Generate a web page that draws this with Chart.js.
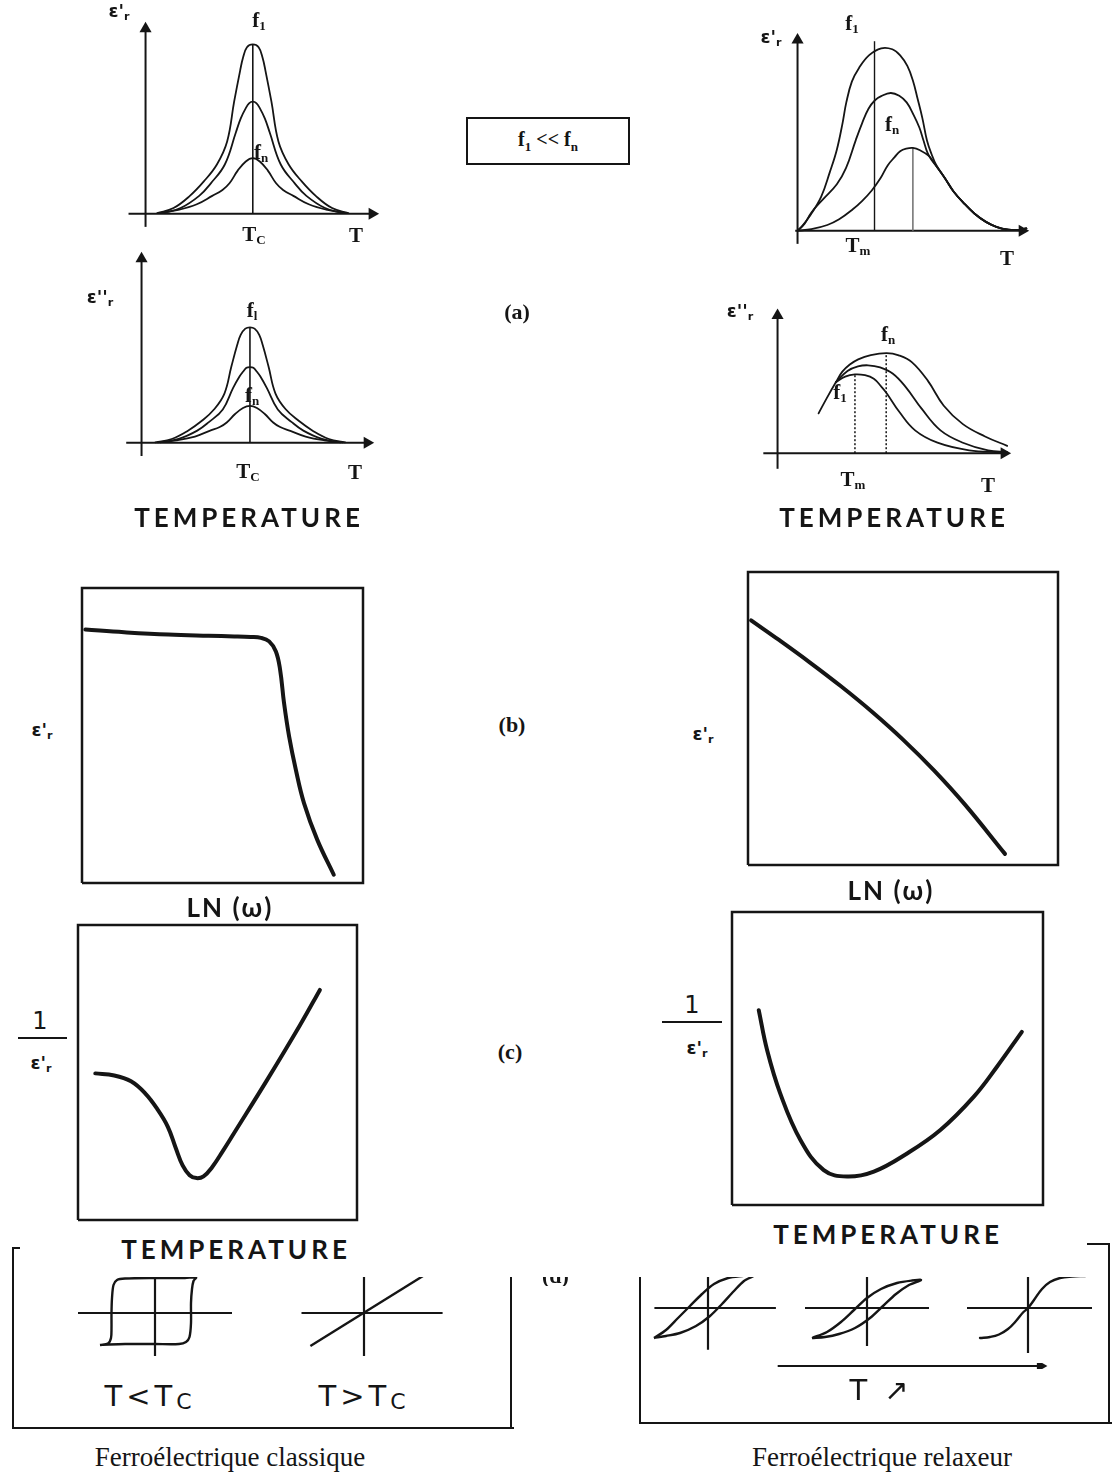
<!DOCTYPE html>
<html>
<head>
<meta charset="utf-8">
<script src="https://cdn.jsdelivr.net/npm/chart.js@4.4.1/dist/chart.umd.min.js"></script>
<style>
  body { margin: 0; background: #fff; width: 1119px; height: 1476px; position: relative; overflow: hidden; color: #151515; font-family: 'DejaVu Sans', sans-serif; }
  canvas { position: absolute; }
  .lab { position: absolute; transform: translate(-50%, -50%); white-space: nowrap; line-height: 1; }
  .lab sub { font-size: 0.62em; vertical-align: -0.3em; }
  .sf { font-family: 'Liberation Serif', serif; font-weight: bold; font-size: 21px; }
  .pl { font-family: 'Liberation Serif', serif; font-weight: bold; font-size: 22px; }
  .ep { font-family: 'DejaVu Sans', sans-serif; font-weight: bold; font-size: 18px; }
  .one { font-family: 'DejaVu Sans', sans-serif; font-size: 24px; }
  .cap { font-family: 'Lato', sans-serif; font-weight: 700; font-size: 26px; letter-spacing: 4px; }
  .ln { font-family: 'Lato', sans-serif; font-weight: 700; font-size: 26px; letter-spacing: 2px; }
  .tt { font-size: 29px; letter-spacing: 4px; }
  .fr { font-family: 'Liberation Serif', serif; font-size: 27px; }
  .line { position: absolute; border-color: #151515; border-style: solid; border-width: 0; }
  .box { position: absolute; border: 2px solid #151515; display: flex; align-items: center; justify-content: center;
         font-family: 'Liberation Serif', serif; font-weight: bold; font-size: 20px; }
  .cut { position: absolute; overflow: hidden; }
</style>
</head>
<body>
<script>
// ---------- data (arbitrary units 0..100) ----------
// (a) ferroelectrique classique, epsilon' vs T
const a1F1 = [[5,0.3],[12,3],[19,9.4],[25,17],[30.6,25.9],[35,38],[38,58.9],[40.6,75.4],[41.8,82],[43.5,87.5],[46,89],[48.5,87.5],[50.2,82],[51.4,75.4],[54,58.9],[57,38],[61.4,25.9],[67,17],[73,9.4],[80,3],[87,0.3]];
const a1Fm = [[7,0.3],[15,3],[23,9.4],[28,16],[34,25.9],[38.7,42.6],[40.8,50],[43,55.5],[44.5,58.2],[46,58.9],[47.5,58.2],[49,55.5],[51.2,50],[53.3,42.6],[58,25.9],[64,16],[69,9.4],[77,3],[85,0.3]];
const a1Fn = [[6,0.3],[14,2],[22,5],[28.6,9.4],[33,12.5],[36,16],[39.6,22.8],[43,27.5],[46,29.2],[49,27.5],[52.4,22.8],[56,16],[59,12.5],[63.4,9.4],[70,5],[78,2],[86,0.3]];
const a1Tc = [[46,0],[46,89]];
// (a) ferroelectrique classique, epsilon'' vs T
const a2F1 = [[6,0.2],[13,2],[20,6.4],[26,11.6],[31.3,17.7],[35.7,26],[38.7,40.3],[41.2,51.6],[42.7,57],[44.7,60.3],[46.7,61],[48.7,60.3],[50.7,57],[52.2,51.6],[54.7,40.3],[57.7,26],[62.1,17.7],[67.7,11.6],[73.7,6.4],[80.7,2],[87.7,0.2]];
const a2Fm = [[8,0.2],[16,2],[24,6.4],[29,10.9],[35,17.6],[39.4,28.9],[42.2,35],[43.7,37.5],[45.2,39.6],[46.7,40],[48.2,39.6],[49.7,37.5],[51.2,35],[54,28.9],[58.7,17.6],[64.7,10.9],[69.7,6.4],[77.7,2],[85.7,0.2]];
const a2Fn = [[7,0.2],[15,1.3],[23,3.3],[29.3,6.3],[33.7,8.3],[36.7,10.7],[40.3,15.2],[43.7,18.4],[46.7,19.5],[49.7,18.4],[53.1,15.2],[56.7,10.7],[59.7,8.3],[64.1,6.3],[70.7,3.3],[78.7,1.3],[86.7,0.2]];
const a2Tc = [[46.7,0],[46.7,61]];
// (a) relaxeur, epsilon' vs T
const a3F1 = [[0,0],[1.2,1.3],[5,7],[10.2,17.3],[14,30],[17,41.3],[19.5,55],[21.1,65.4],[23.5,76],[26.6,83],[31,89.5],[36.2,93],[41,92.5],[44.4,89.4],[47.5,84],[49.9,76.6],[52,67],[54,57.4],[56,46],[58,39],[60,33.5],[63.7,26.9],[67.5,20],[71.9,14.1],[76.5,8.8],[81.5,4.5],[86,2],[91.1,0.5],[95,0.3],[99,1.2]];
const a3Fm = [[0,0],[3,3.5],[6,9.3],[11,16],[17,23.7],[21,32],[25.2,46.2],[28,55],[30.7,62.2],[33.5,66.5],[36.2,68.6],[40.3,70.2],[44,68.8],[47.2,65.4],[50,59.5],[52.7,52.6],[54.5,46],[56.2,39.8],[58,36],[60,33],[63.7,26.9],[67.5,20],[71.9,14.1],[76.5,8.8],[81.5,4.5],[86,2],[91.1,0.5],[95,0.3],[99,1.2]];
const a3Fn = [[0,0],[6,0.8],[12.9,2.9],[18,5.8],[23.9,10.9],[28,15.2],[32.1,20.5],[36,27],[39,33.3],[42,37.5],[44.4,40.5],[47,41.8],[49.9,42.2],[53,41],[56.8,38.1],[60,33],[63.7,26.9],[67.5,20],[71.9,14.1],[76.5,8.8],[81.5,4.5],[86,2],[91.1,0.5],[95,0.3],[99,1.2]];
const a3Tm = [[33.3,0],[33.3,96.6]];
const a3Tn = [[49.9,0],[49.9,42.2]];
// (a) relaxeur, epsilon'' vs T
const a4Fn = [[17.6,28.1],[21,38.5],[25,50],[27.8,57.5],[31,62.5],[34.6,66.2],[40,69.2],[46.8,70.6],[52,69],[57.7,64.1],[64.5,51],[71.3,33.5],[79.5,20.5],[89,11.8],[98.5,5.2]];
const a4Fm = [[25,50],[30,58],[34.5,61.2],[38.8,62],[44,60.5],[49.5,56],[55,46.6],[61.8,31.4],[69.9,16.1],[79.5,7.4],[90.3,2],[98.5,0.8]];
const a4F1 = [[25,50],[29,54],[33.2,55.6],[37.5,55],[41.3,52.5],[44.5,47],[46.8,42.3],[52.2,29.2],[59,16.1],[68.6,7.4],[82.2,2],[95.8,0.5]];
const a4T1 = [[33.2,0],[33.2,55.6]];
const a4Tn = [[46.6,0],[46.6,70.6]];
// (b) epsilon' vs LN(omega)
const bLeft = [[1.2,85.9],[15,85],[30.7,84.2],[45,83.8],[54.2,83.6],[60,83.4],[63.7,83.1],[66.6,81.9],[69,78.5],[70.5,72.3],[71.9,61],[73.7,49.7],[76.1,38.4],[79,27.1],[83.7,14.7],[89.6,2.8]];
const bRight = [[1,83.5],[10,76.8],[20,69.1],[30,61],[40,52.3],[50,42.8],[60,32.3],[70,20.6],[82.9,3.8]];
// (c) 1/epsilon' vs T
const cLeft = [[6.2,49.7],[13,49],[19,47],[24,43],[28.5,37.5],[32.2,31.6],[35,24.5],[37.5,18.5],[40,15.2],[42.5,14.2],[45,14.8],[48,17.8],[52,23.5],[55.9,29.4],[67.8,47.5],[79.6,66.1],[86.7,78]];
const cRight = [[8.6,66.5],[11.3,52.8],[15.5,38.1],[22,22.2],[29.5,11.9],[37,9.7],[45.6,11.4],[56.3,17.6],[67,25.6],[77.7,36.9],[85.2,47.2],[93.2,59.1]];
// (d) P(E) loops, offsets from the axes crossing
const l1Loop = [[-55,-32],[-46,-31.5],[-30,-31],[0,-31],[24,-31],[31,-29],[34.5,-24],[36,-10],[36,10],[37,24],[38.5,32],[41,35.5],[30,35],[0,35],[-30,34.5],[-38,33],[-41.5,28],[-43,15],[-43.5,0],[-43.5,-15],[-44,-25],[-47,-30.5],[-55,-32]];
const l2Line = [[-53.6,-33],[59,37]];
const r1Loop = [[-54,-30],[-42,-22],[-30,-10],[-18,2],[-6,14],[6,24],[20,30],[34,32],[47,33],[36,27],[26,17],[14,4],[2,-8],[-12,-18],[-28,-25],[-42,-28],[-54,-30]];
const r2Loop = [[-55,-30],[-40,-24],[-26,-14],[-13,-2],[0,10],[14,19],[30,25],[45,27.5],[54,28],[42,23],[29,14],[16,2],[3,-10],[-12,-20],[-28,-26],[-42,-29],[-55,-30]];
const r3Curve = [[-48,-30],[-38,-29],[-29,-26.5],[-20,-21],[-12,-13],[-5,-4.5],[0,0],[6,8],[14,19],[22,26],[32,30],[44,31.5],[57,32]];

const INK = '#151515';

function pts(a) { return a.map(p => ({ x: p[0], y: p[1] })); }
function curve(a, w, extra) {
  return Object.assign({ data: pts(a), borderColor: INK, borderWidth: w, pointRadius: 0,
    tension: 0.4, borderCapStyle: 'round', fill: false }, extra || {});
}
function seg(a, w, extra) {
  return Object.assign({ data: pts(a), borderColor: INK, borderWidth: w, pointRadius: 0,
    tension: 0, borderJoinStyle: 'miter', fill: false }, extra || {});
}
function loop(a, w) {
  return { data: pts(a), borderColor: INK, borderWidth: w, pointRadius: 0, tension: 0.3, fill: false };
}
function head(p, rot, r) {
  return { data: pts([p]), showLine: false, pointStyle: 'triangle', pointRadius: r || 7, pointRotation: rot,
    backgroundColor: INK, borderColor: INK, borderWidth: 0 };
}

function chartAt(rect, xr, yr, sets) {
  const cv = document.createElement('canvas');
  cv.width = Math.round(rect.w); cv.height = Math.round(rect.h);
  cv.style.left = rect.l + 'px'; cv.style.top = rect.t + 'px';
  document.body.appendChild(cv);
  return new Chart(cv.getContext('2d'), {
    type: 'line',
    data: { datasets: sets },
    options: {
      responsive: false, animation: false, events: [],
      layout: { padding: 0 },
      plugins: { legend: { display: false }, tooltip: { enabled: false } },
      scales: {
        x: { type: 'linear', display: false, min: xr[0], max: xr[1] },
        y: { type: 'linear', display: false, min: yr[0], max: yr[1] }
      }
    }
  });
}

// panel with arrow axes: origin (ox,oy), arrow tips at tx / ty
function axesPanel(o, sets) {
  const ux = (o.tx - o.ox) / 100, uy = (o.oy - o.ty) / 100;
  const rect = { l: o.ox - 30, t: o.ty - 8, w: o.tx - o.ox + 44, h: o.oy - o.ty + 38 };
  const xr = [(rect.l - o.ox) / ux, (rect.l + rect.w - o.ox) / ux];
  const yr = [(o.oy - (rect.t + rect.h)) / uy, (o.oy - rect.t) / uy];
  const axes = [
    seg([[o.x0, 0], [97, 0]], 2), head([97.2, 0], 90),
    seg([[0, o.y0], [0, 97]], 2), head([0, 97.2], 0)
  ];
  return chartAt(rect, xr, yr, sets.concat(axes));
}

// framed panel: data 0..100 fills the box
function framed(b, sets) {
  const pad = 8, w = b.r - b.l, h = b.b - b.t;
  const rect = { l: b.l - pad, t: b.t - pad, w: w + 2 * pad, h: h + 2 * pad };
  const px = pad * 100 / w, py = pad * 100 / h;
  const frame = seg([[0, 0], [100, 0], [100, 100], [0, 100], [0, 0]], 2.5);
  return chartAt(rect, [-px, 100 + px], [-py, 100 + py], sets.concat([frame]));
}

// ---------- layout ----------
axesPanel({ ox: 140, oy: 219, tx: 385, ty: 17, x0: -7.3, y0: -6.9 },
  [curve(a1F1, 1.8), curve(a1Fm, 1.8), curve(a1Fn, 1.8), seg(a1Tc, 1.6)]);
axesPanel({ ox: 136, oy: 448, tx: 380, ty: 247, x0: -6.6, y0: -7 },
  [curve(a2F1, 1.8), curve(a2Fm, 1.8), curve(a2Fn, 1.8), seg(a2Tc, 1.6)]);
axesPanel({ ox: 792, oy: 236, tx: 1035, ty: 28, x0: -1, y0: -6.7 },
  [curve(a3F1, 1.8), curve(a3Fm, 1.8), curve(a3Fn, 1.8), seg(a3Tm, 1.4), seg(a3Tn, 1.6, { borderColor: '#777' })]);
axesPanel({ ox: 772, oy: 458, tx: 1017, ty: 305, x0: -6.1, y0: -11 },
  [curve(a4Fn, 1.8), curve(a4Fm, 1.8), curve(a4F1, 1.8),
   seg(a4T1, 1.5, { borderDash: [2, 2] }), seg(a4Tn, 1.5, { borderDash: [2, 2] })]);

framed({ l: 82, t: 588, r: 363, b: 883 }, [curve(bLeft, 4)]);
framed({ l: 748, t: 572, r: 1058, b: 865 }, [curve(bRight, 4)]);
framed({ l: 78, t: 925, r: 357, b: 1220 }, [curve(cLeft, 4)]);
framed({ l: 732, t: 912, r: 1043, b: 1205 }, [curve(cRight, 4)]);

// (d) loops, one small chart per loop, 1 unit = 1 px
function loopPanel(cx, cy, up, sets) {
  return chartAt({ l: cx - 90, t: cy - up, w: 180, h: up + 50 }, [-90, 90], [-50, up], sets);
}
loopPanel(155, 1313, 36, [seg([[-77, 0], [77, 0]], 2.2), seg([[0, 40], [0, -43]], 2.2), loop(l1Loop, 2.4)]);
loopPanel(364, 1313, 36, [seg([[-62.5, 0], [78.6, 0]], 2.2), seg([[0, 40], [0, -43]], 2.2), seg(l2Line, 2.4)]);
loopPanel(708, 1308, 31, [seg([[-53.6, 0], [67.9, 0]], 2.2), seg([[0, 40], [0, -41.7]], 2.2), loop(r1Loop, 2.4)]);
loopPanel(867, 1308, 31, [seg([[-62, 0], [62, 0]], 2.2), seg([[0, 40], [0, -38]], 2.2), loop(r2Loop, 2.4)]);
loopPanel(1028, 1308, 31, [seg([[-61, 0], [64, 0]], 2.2), seg([[0, 40], [0, -45]], 2.2), curve(r3Curve, 2.4)]);
// T increasing arrow
chartAt({ l: 765, t: 1356, w: 300, h: 20 }, [-2.1, 103.5], [-1, 1],
  [seg([[0, 0], [96, 0]], 2.2), head([97, 0], 90, 7)]);

// ---------- text ----------
const labels = [
  ['ε\'<sub>r</sub>', 119, 12, 'ep'], ['f<sub>1</sub>', 259, 21, 'sf'], ['f<sub>n</sub>', 261, 153, 'sf'],
  ['T<sub>C</sub>', 254, 235, 'sf'], ['T', 356, 235, 'sf'],
  ['ε\'\'<sub>r</sub>', 100, 298, 'ep'], ['f<sub>l</sub>', 252, 311, 'sf'], ['f<sub>n</sub>', 252, 396, 'sf'],
  ['T<sub>C</sub>', 248, 472, 'sf'], ['T', 355, 472, 'sf'], ['TEMPERATURE', 249, 517, 'cap'],
  ['ε\'<sub>r</sub>', 771, 38, 'ep'], ['f<sub>1</sub>', 852, 24, 'sf'], ['f<sub>n</sub>', 892, 125, 'sf'],
  ['T<sub>m</sub>', 858, 246, 'sf'], ['T', 1007, 258, 'sf'],
  ['ε\'\'<sub>r</sub>', 740, 312, 'ep'], ['f<sub>n</sub>', 888, 335, 'sf'], ['f<sub>1</sub>', 840, 393, 'sf'],
  ['T<sub>m</sub>', 853, 480, 'sf'], ['T', 988, 485, 'sf'], ['TEMPERATURE', 894, 517, 'cap'],
  ['(a)', 517, 312, 'pl'], ['(b)', 512, 725, 'pl'], ['(c)', 510, 1052, 'pl'],
  ['ε\'<sub>r</sub>', 42, 731, 'ep'], ['LN (ω)', 230, 907, 'ln'],
  ['ε\'<sub>r</sub>', 703, 735, 'ep'], ['LN (ω)', 891, 890, 'ln'],
  ['1', 40, 1021, 'one'], ['ε\'<sub>r</sub>', 41, 1064, 'ep'], ['TEMPERATURE', 236, 1249, 'cap'],
  ['1', 692, 1005, 'one'], ['ε\'<sub>r</sub>', 697, 1049, 'ep'], ['TEMPERATURE', 888, 1234, 'cap'],
  ['T&lt;T<span style="font-size:22px;vertical-align:-3px">C</span>', 150, 1397, 'tt'],
  ['T&gt;T<span style="font-size:22px;vertical-align:-3px">C</span>', 364, 1397, 'tt'],
  ['T ↗', 881, 1390, 'tt'],
  ['Ferroélectrique classique', 230, 1457, 'fr'], ['Ferroélectrique relaxeur', 882, 1457, 'fr']
];
labels.forEach(function (l) {
  const d = document.createElement('div');
  d.className = 'lab ' + l[3];
  d.innerHTML = l[0];
  d.style.left = l[1] + 'px'; d.style.top = l[2] + 'px';
  document.body.appendChild(d);
});

function rule(css) {
  const d = document.createElement('div');
  d.className = 'line';
  Object.assign(d.style, css);
  document.body.appendChild(d);
}
// fraction bars of 1/eps'
rule({ left: '18px', top: '1037px', width: '49px', borderTopWidth: '2.5px' });
rule({ left: '662px', top: '1021px', width: '60px', borderTopWidth: '2.5px' });
// frames around the P(E) loops
rule({ left: '12px', top: '1247px', width: '500px', height: '180px', borderLeftWidth: '2.5px', borderBottomWidth: '2.5px' });
rule({ left: '12px', top: '1247px', width: '8px', borderTopWidth: '2.5px' });
rule({ left: '510px', top: '1277px', height: '152px', borderLeftWidth: '2.5px' });
rule({ left: '639px', top: '1277px', width: '471px', height: '145px', borderLeftWidth: '2.5px', borderBottomWidth: '2.5px' });
rule({ left: '1108px', top: '1243px', height: '181px', borderLeftWidth: '2.5px' });
rule({ left: '1087px', top: '1243px', width: '23px', borderTopWidth: '2.5px' });

// f1 << fn box
const bx = document.createElement('div');
bx.className = 'box';
Object.assign(bx.style, { left: '466px', top: '117px', width: '160px', height: '44px' });
bx.innerHTML = '<span>f<sub style="font-size:13px">1</sub> &lt;&lt; f<sub style="font-size:13px">n</sub></span>';
document.body.appendChild(bx);

// partly hidden "(d)" label below the cut
const cut = document.createElement('div');
cut.className = 'cut';
Object.assign(cut.style, { left: '530px', top: '1277px', width: '60px', height: '9px' });
cut.innerHTML = '<div class="pl" style="position:absolute;left:12px;top:-12px;line-height:1">(d)</div>';
document.body.appendChild(cut);
</script>
</body>
</html>
